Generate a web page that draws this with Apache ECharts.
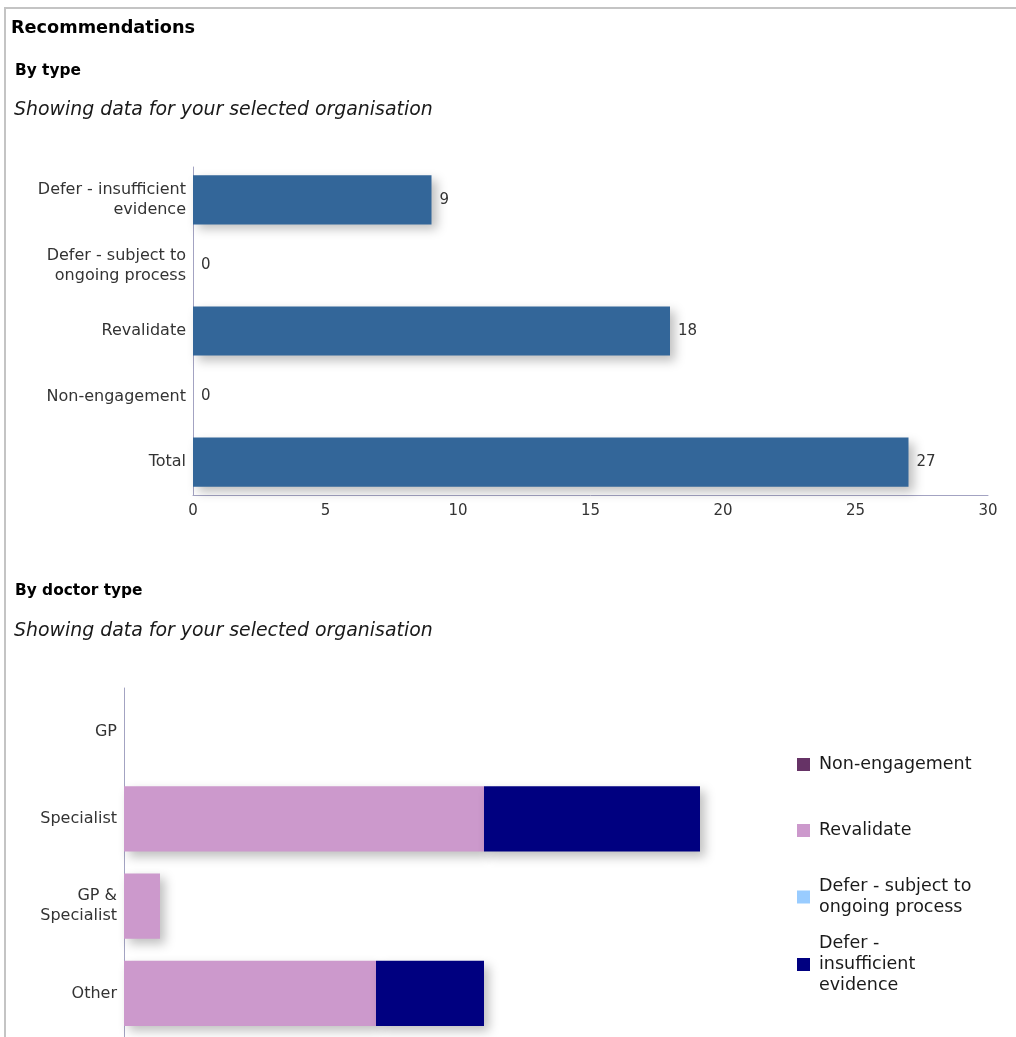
<!DOCTYPE html>
<html>
<head>
<meta charset="utf-8">
<script src="https://cdn.jsdelivr.net/npm/echarts@6/dist/echarts.min.js"></script>
<style>
  html, body { margin: 0; padding: 0; background: #fff; }
  #frame { position: absolute; left: 4px; top: 7px; width: 1012px; height: 1030px;
           border-top: 2px solid #c4c4c4; border-left: 2px solid #c4c4c4; }
  #chart { position: absolute; left: 0; top: 0; width: 1016px; height: 1037px; }
</style>
</head>
<body>
<div id="frame"></div>
<div id="chart"></div>
<script>
// Recommendations by type
const typeCategories = ['Defer - insufficient evidence', 'Defer - subject to ongoing process', 'Revalidate', 'Non-engagement', 'Total'];
const typeValues = [9, 0, 18, 0, 27];
const typeTicks = [0, 5, 10, 15, 20, 25, 30];

// Recommendations by doctor type (stacked)
const doctorCategories = ['GP', 'Specialist', 'GP & Specialist', 'Other'];
const nonEngagement = [0, 0, 0, 0];
const revalidate = [0, 10, 1, 7];
const deferOngoing = [0, 0, 0, 0];
const deferInsufficient = [0, 6, 0, 3];

const wrapped = {
  'Defer - insufficient evidence': 'Defer - insufficient\nevidence',
  'Defer - subject to ongoing process': 'Defer - subject to\nongoing process',
  'GP & Specialist': 'GP &\nSpecialist'
};
const legendWrapped = {
  'Defer - subject to ongoing process': 'Defer - subject to\nongoing process',
  'Defer - insufficient evidence': 'Defer -\ninsufficient\nevidence'
};

const FONT = 'DejaVu Sans';
const shadow = { shadowColor: 'rgba(0,0,0,0.25)', shadowBlur: 10, shadowOffsetX: 5, shadowOffsetY: 5 };
const axisLineColor = '#a3a3c2';

const chart = echarts.init(document.getElementById('chart'), null, { renderer: 'canvas' });

function legendAt(name, top) {
  return {
    data: [name], left: 797, top: top, orient: 'vertical', padding: 0,
    icon: 'rect', itemWidth: 13, itemHeight: 13, selectedMode: false,
    formatter: n => legendWrapped[n] || n,
    textStyle: { fontFamily: FONT, fontSize: 17.5, color: '#1a1a1a', lineHeight: 21, padding: [0, 0, 0, 4] }
  };
}

chart.setOption({
  animation: false,
  textStyle: { fontFamily: FONT },
  title: [
    { text: 'Recommendations', left: 11, top: 19, padding: 0,
      textStyle: { fontFamily: FONT, fontSize: 17.7, fontWeight: 'bold', color: '#000' } },
    { text: 'By type', left: 15, top: 63, padding: 0,
      textStyle: { fontFamily: FONT, fontSize: 15.4, fontWeight: 'bold', color: '#000' } },
    { text: 'Showing data for your selected organisation', left: 14, top: 101, padding: 0,
      textStyle: { fontFamily: FONT, fontSize: 18.9, fontStyle: 'italic', fontWeight: 'normal', color: '#1a1a1a' } },
    { text: 'By doctor type', left: 15, top: 583, padding: 0,
      textStyle: { fontFamily: FONT, fontSize: 15.4, fontWeight: 'bold', color: '#000' } },
    { text: 'Showing data for your selected organisation', left: 14, top: 622, padding: 0,
      textStyle: { fontFamily: FONT, fontSize: 18.9, fontStyle: 'italic', fontWeight: 'normal', color: '#1a1a1a' } }
  ],
  legend: [
    legendAt('Non-engagement', 754),
    legendAt('Revalidate', 820),
    legendAt('Defer - subject to ongoing process', 876),
    legendAt('Defer - insufficient evidence', 933)
  ],
  grid: [
    { left: 193, top: 167, width: 795, height: 328, containLabel: false },
    { left: 124, top: 688, width: 648, height: 354, containLabel: false }
  ],
  xAxis: [
    { gridIndex: 0, type: 'value', min: typeTicks[0], max: typeTicks[typeTicks.length - 1], interval: 5,
      axisLine: { show: true, lineStyle: { color: axisLineColor, width: 1 } },
      axisTick: { show: false }, splitLine: { show: false },
      axisLabel: { fontFamily: FONT, fontSize: 15, color: '#333', margin: 9 } },
    { gridIndex: 1, type: 'value', min: 0, max: 18, interval: 2,
      axisLine: { show: false }, axisTick: { show: false }, splitLine: { show: false },
      axisLabel: { show: false } }
  ],
  yAxis: [
    { gridIndex: 0, type: 'category', data: typeCategories, inverse: true,
      axisLine: { show: true, lineStyle: { color: axisLineColor, width: 1 } },
      axisTick: { show: false },
      axisLabel: { fontFamily: FONT, fontSize: 16, color: '#333', margin: 7, lineHeight: 20,
                   formatter: v => wrapped[v] || v } },
    { gridIndex: 1, type: 'category', data: doctorCategories, inverse: true,
      axisLine: { show: true, lineStyle: { color: axisLineColor, width: 1 } },
      axisTick: { show: false },
      axisLabel: { fontFamily: FONT, fontSize: 16, color: '#333', margin: 7, lineHeight: 20,
                   formatter: v => wrapped[v] || v } }
  ],
  series: [
    { name: 'By type', type: 'bar', xAxisIndex: 0, yAxisIndex: 0, data: typeValues,
      barCategoryGap: '25%',
      itemStyle: Object.assign({ color: '#336699' }, shadow),
      label: { show: true, position: 'right', distance: 8, fontFamily: FONT, fontSize: 15, color: '#333' } },
    { name: 'Non-engagement', type: 'bar', stack: 'doc', xAxisIndex: 1, yAxisIndex: 1, data: nonEngagement,
      barCategoryGap: '25%', itemStyle: Object.assign({ color: '#663366' }, shadow) },
    { name: 'Revalidate', type: 'bar', stack: 'doc', xAxisIndex: 1, yAxisIndex: 1, data: revalidate,
      barCategoryGap: '25%', itemStyle: Object.assign({ color: '#cc99cc' }, shadow) },
    { name: 'Defer - subject to ongoing process', type: 'bar', stack: 'doc', xAxisIndex: 1, yAxisIndex: 1, data: deferOngoing,
      barCategoryGap: '25%', itemStyle: Object.assign({ color: '#99ccff' }, shadow) },
    { name: 'Defer - insufficient evidence', type: 'bar', stack: 'doc', xAxisIndex: 1, yAxisIndex: 1, data: deferInsufficient,
      barCategoryGap: '25%', itemStyle: Object.assign({ color: '#000080' }, shadow) }
  ]
});
</script>
</body>
</html>
